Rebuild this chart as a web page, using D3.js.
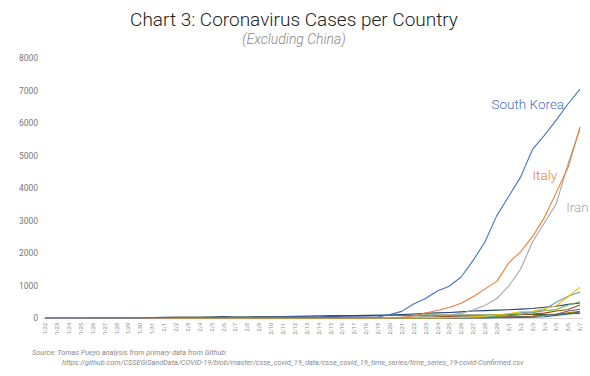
<!DOCTYPE html>
<html>
<head>
<meta charset="utf-8">
<script src="https://cdn.jsdelivr.net/npm/d3@7"></script>
<style>
  body { margin: 0; background: #fff; }
  text { font-family: Roboto, "Liberation Sans", sans-serif; }
</style>
</head>
<body>
<div id="chart"></div>
<script>
// dates 1/22 .. 3/7
const dates = ["1/22","1/23","1/24","1/25","1/26","1/27","1/28","1/29","1/30","1/31",
  "2/1","2/2","2/3","2/4","2/5","2/6","2/7","2/8","2/9","2/10","2/11","2/12","2/13","2/14",
  "2/15","2/16","2/17","2/18","2/19","2/20","2/21","2/22","2/23","2/24","2/25","2/26","2/27",
  "2/28","2/29","3/1","3/2","3/3","3/4","3/5","3/6","3/7"];

const yTicks = [0,1000,2000,3000,4000,5000,6000,7000,8000];

// confirmed cases per country
const southKorea = [1,1,2,2,3,4,4,4,4,11,12,15,15,16,19,23,24,24,25,27,28,28,28,28,28,29,30,31,31,104,204,433,602,833,977,1261,1766,2337,3150,3736,4335,5186,5621,6088,6593,7041];
const italy = [0,0,0,0,0,0,0,0,0,2,2,2,2,2,2,2,3,3,3,3,3,3,3,3,3,3,3,3,3,3,20,62,155,229,322,453,655,888,1128,1694,2036,2502,3089,3858,4636,5883];
const iran = [0,0,0,0,0,0,0,0,0,0,0,0,0,0,0,0,0,0,0,0,0,0,0,0,0,0,0,0,2,5,18,28,43,61,95,139,245,388,593,978,1501,2336,2922,3513,4747,5823];
const france = [0,0,2,3,3,3,4,5,5,5,6,6,6,6,6,6,6,11,11,11,11,11,11,11,12,12,12,12,12,12,12,12,12,12,14,18,38,57,100,130,191,204,285,377,653,949];
const germany = [0,0,0,0,0,1,4,4,4,5,8,10,12,12,12,12,13,13,14,14,16,16,16,16,16,16,16,16,16,16,16,16,16,16,17,27,46,48,79,130,159,196,262,482,670,799];
const spain = [0,0,0,0,0,0,0,0,0,0,1,1,1,1,1,1,1,1,2,2,2,2,2,2,2,2,2,2,2,2,2,2,2,2,6,13,15,32,45,84,120,165,222,259,400,500];
const japan = [2,1,2,2,4,4,7,7,11,15,20,20,20,22,22,45,25,25,26,26,26,28,28,29,43,59,66,74,84,94,105,122,147,159,170,189,214,228,241,256,274,293,331,360,420,461];
const usa = [1,1,2,2,5,5,5,5,5,6,8,8,11,11,12,12,12,12,12,12,13,13,14,14,14,14,14,14,14,14,15,15,15,51,51,57,58,60,68,74,98,118,149,217,262,402];
const switzerland = [0,0,0,0,0,0,0,0,0,0,0,0,0,0,0,0,0,0,0,0,0,0,0,0,0,0,0,0,0,0,0,0,0,0,1,1,8,8,18,27,42,56,90,114,214,268];
const uk = [0,0,0,0,0,0,0,0,0,2,2,2,2,2,2,2,3,3,3,8,8,9,9,9,9,9,9,9,9,9,9,9,9,13,13,13,15,20,23,36,40,51,85,115,163,206];
const netherlands = [0,0,0,0,0,0,0,0,0,0,0,0,0,0,0,0,0,0,0,0,0,0,0,0,0,0,0,0,0,0,0,0,0,0,0,0,1,1,6,10,18,24,38,82,128,188];
const singapore = [0,1,3,3,4,5,7,7,10,13,16,18,18,24,28,28,30,33,40,45,47,50,58,67,72,75,77,81,84,84,85,85,89,89,91,93,93,93,102,106,108,110,110,117,130,138];

const countries = ["South Korea","Italy","Iran","France","Germany","Spain","Japan","US","Switzerland","UK","Netherlands","Singapore"];
const seriesValues = [southKorea,italy,iran,france,germany,spain,japan,usa,switzerland,uk,netherlands,singapore];
const colors = ["#4472C4","#ED7D31","#A5A5A5","#FFC000","#5B9BD5","#70AD47","#264478","#9E480E","#636363","#997300","#255E91","#43682B"];

const labelled = ["South Korea","Italy","Iran"];

const W = 590, H = 376;
const svg = d3.select("#chart").append("svg")
  .attr("width", W).attr("height", H);

const x = d3.scalePoint().domain(dates).range([45, 580]);
const y = d3.scaleLinear().domain([0, 8000]).range([318, 58]);

// titles
svg.append("text")
  .attr("x", 294).attr("y", 26)
  .attr("text-anchor", "middle")
  .style("font-size", "19px").style("font-weight", 300)
  .attr("fill", "#222")
  .text("Chart 3: Coronavirus Cases per Country");

svg.append("text")
  .attr("x", 294).attr("y", 44)
  .attr("text-anchor", "middle")
  .style("font-size", "14px").style("font-style", "italic").style("font-weight", 300)
  .attr("fill", "#888")
  .text("(Excluding China)");

// y axis (labels only)
const yAxis = svg.append("g")
  .attr("transform", "translate(38,0)")
  .call(d3.axisLeft(y).tickValues(yTicks).tickFormat(d3.format("d")).tickSize(0).tickPadding(0));
yAxis.select(".domain").remove();
yAxis.selectAll("text")
  .attr("fill", "#777")
  .style("font-size", "8.5px");

// x axis baseline + rotated date labels
const xAxis = svg.append("g")
  .attr("transform", "translate(0,318)")
  .call(d3.axisBottom(x).tickSize(0).tickPadding(0));
xAxis.select(".domain").attr("stroke", "#d9d9d9").attr("d", "M42,0.5H583");
xAxis.selectAll("text")
  .attr("fill", "#888")
  .style("font-size", "5.5px")
  .attr("text-anchor", "end")
  .attr("dy", "0.32em")
  .attr("transform", "translate(0,5) rotate(-90)");

// lines
const line = d3.line()
  .x((d, i) => x(dates[i]))
  .y(d => y(d));

// draw small countries first, big ones on top
const order = d3.range(countries.length).reverse();
svg.append("g").selectAll("path")
  .data(order)
  .join("path")
  .attr("d", i => line(seriesValues[i]))
  .attr("fill", "none")
  .attr("stroke", i => colors[i])
  .attr("stroke-width", 1.1)
  .attr("stroke-linejoin", "round");

// direct labels, placed next to a point of their own line
const labelAt = {
  "South Korea": { idx: 44, dx: -4, dy: 5, anchor: "end" },
  "Italy": { idx: 44, dx: -11, dy: 13, anchor: "end" },
  "Iran": { idx: 43, dx: 10, dy: 8, anchor: "start" }
};
labelled.forEach(name => {
  const i = countries.indexOf(name);
  const p = labelAt[name];
  svg.append("text")
    .attr("x", x(dates[p.idx]) + p.dx)
    .attr("y", y(seriesValues[i][p.idx]) + p.dy)
    .attr("text-anchor", p.anchor)
    .attr("fill", colors[i])
    .style("font-size", "13.5px")
    .style("font-weight", 300)
    .text(name);
});

// source note
svg.append("text")
  .attr("x", 32).attr("y", 355)
  .attr("fill", "#888")
  .style("font-size", "7.3px").style("font-style", "italic")
  .text("Source: Tomas Pueyo analysis from primary data from Github:");
svg.append("text")
  .attr("x", 62).attr("y", 365)
  .attr("fill", "#888")
  .style("font-size", "7.3px").style("font-style", "italic")
  .text("https://github.com/CSSEGISandData/COVID-19/blob/master/csse_covid_19_data/csse_covid_19_time_series/time_series_19-covid-Confirmed.csv");
</script>
</body>
</html>
